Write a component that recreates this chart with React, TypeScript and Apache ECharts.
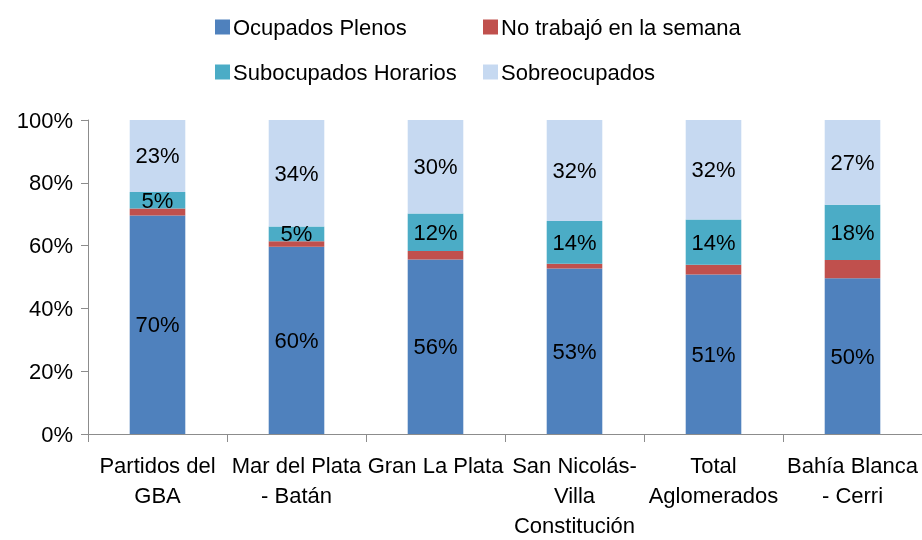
import React, { useEffect, useRef } from "react";
import * as echarts from "echarts";

const categories = [
  "Partidos del\nGBA",
  "Mar del Plata\n- Batán",
  "Gran La Plata",
  "San Nicolás-\nVilla\nConstitución",
  "Total\nAglomerados",
  "Bahía Blanca\n- Cerri",
];
const seriesNames = [
  "Ocupados Plenos",
  "No trabajó en la semana",
  "Subocupados Horarios",
  "Sobreocupados",
];
const ocupadosPlenos = [69.6, 59.6, 55.6, 52.7, 50.8, 49.6];
const noTrabajo = [2.2, 1.8, 2.7, 1.5, 3.1, 5.8];
const subocupados = [5.3, 4.7, 11.9, 13.6, 14.4, 17.6];
const sobreocupados = [22.9, 33.9, 29.8, 32.2, 31.7, 27.0];
const yTicks = [0, 20, 40, 60, 80, 100];

const colors = ["#4F81BD", "#C0504D", "#4BACC6", "#C6D9F1"];
const FONT = "'Liberation Sans', Arial, sans-serif";
const FS = 22;

export default function App() {
  const ref = useRef<HTMLDivElement>(null);
  useEffect(() => {
    if (!ref.current) return;
    const chart = echarts.init(ref.current, null, { renderer: "svg" });
    const dataSets = [ocupadosPlenos, noTrabajo, subocupados, sobreocupados];
    const legendPos = [
      { left: 215, top: 16 },
      { left: 483, top: 16 },
      { left: 215, top: 61 },
      { left: 483, top: 61 },
    ];
    chart.setOption({
      animation: false,
      textStyle: { fontFamily: FONT },
      legend: seriesNames.map((n, i) => ({
        data: [n],
        left: legendPos[i].left,
        top: legendPos[i].top,
        icon: "rect",
        itemWidth: 15,
        itemHeight: 15,
        itemGap: 4,
        padding: 0,
        textStyle: { fontFamily: FONT, fontSize: FS, color: "#000", padding: [0, 0, 0, -2] },
        selectedMode: false,
      })),
      grid: { left: 88, right: 0, top: 120, bottom: 101, containLabel: false },
      xAxis: {
        type: "category",
        data: categories,
        axisLine: { lineStyle: { color: "#8c8c8c", width: 1 } },
        axisTick: { show: true, alignWithLabel: false, length: 8, lineStyle: { color: "#8c8c8c" } },
        axisLabel: {
          interval: 0,
          fontFamily: FONT,
          fontSize: FS,
          color: "#000",
          lineHeight: 30,
          margin: 16,
        },
      },
      yAxis: {
        type: "value",
        min: 0,
        max: 100,
        interval: 20,
        axisLine: { show: true, lineStyle: { color: "#8c8c8c", width: 1 } },
        axisTick: { show: true, length: 7, lineStyle: { color: "#8c8c8c" } },
        splitLine: { show: false },
        axisLabel: {
          fontFamily: FONT,
          fontSize: FS,
          color: "#000",
          margin: 15,
          formatter: (v: number) => (yTicks.includes(v) ? v + "%" : ""),
        },
      },
      series: seriesNames.map((n, i) => ({
        name: n,
        type: "bar",
        stack: "total",
        barWidth: "40%",
        data: dataSets[i],
        itemStyle: { color: colors[i] },
        label: {
          show: i !== 1,
          position: "inside",
          fontFamily: FONT,
          fontSize: FS,
          color: "#000",
          formatter: (p: any) => Math.round(p.value) + "%",
        },
      })),
    });
    return () => chart.dispose();
  }, []);
  return (
    <div
      ref={ref}
      style={{ width: 922, height: 540, position: "fixed", left: 0, top: 0 }}
    />
  );
}
